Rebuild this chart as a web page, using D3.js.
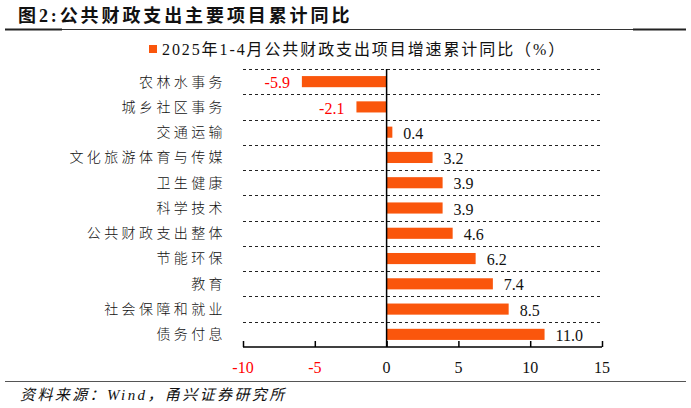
<!DOCTYPE html>
<html>
<head>
<meta charset="utf-8">
<script src="https://cdn.jsdelivr.net/npm/d3@7/dist/d3.min.js"></script>
<style>
body { margin: 0; background: #fff; }
svg { display: block; }
</style>
</head>
<body>
<svg id="chart"></svg>
<script>
var categories = ["农林水事务", "城乡社区事务", "交通运输", "文化旅游体育与传媒", "卫生健康", "科学技术",
  "公共财政支出整体", "节能环保", "教育", "社会保障和就业", "债务付息"];
var values = [-5.9, -2.1, 0.4, 3.2, 3.9, 3.9, 4.6, 6.2, 7.4, 8.5, 11.0];
var tickValues = [-10, -5, 0, 5, 10, 15];
var seriesName = "2025年1-4月公共财政支出项目增速累计同比（%）";

var width = 691,
  height = 408;
var barColor = "#FA560C";
var serif = "'Liberation Serif', 'Times New Roman', serif";
var cjk = "'Noto Sans CJK SC', sans-serif";

var svg = d3.select("#chart")
  .attr("width", width)
  .attr("height", height);

var x = d3.scaleLinear().domain([-10, 15]).range([243, 602]);
var y = d3.scaleBand().domain(categories).range([69, 347]).paddingInner(0.56).paddingOuter(0.28);

// title
svg.append("text")
  .attr("x", 18)
  .attr("y", 22)
  .style("font-family", serif + ", " + cjk)
  .style("font-weight", 700)
  .style("font-size", "18px")
  .style("letter-spacing", "2.9px")
  .style("fill", "#111")
  .text("图2:公共财政支出主要项目累计同比");

svg.append("line")
  .attr("x1", 5).attr("x2", 686)
  .attr("y1", 29.5).attr("y2", 29.5)
  .style("stroke", "#333")
  .style("stroke-width", 1.2);
svg.selectAll(".edge")
  .data([[5, 62], [633, 686]])
  .enter().append("line")
  .attr("class", "edge")
  .attr("x1", function(d) { return d[0]; })
  .attr("x2", function(d) { return d[1]; })
  .attr("y1", 29.5).attr("y2", 29.5)
  .style("stroke", "#222")
  .style("stroke-width", 2);

// legend
svg.append("rect")
  .attr("x", 149).attr("y", 45)
  .attr("width", 8).attr("height", 8)
  .style("fill", barColor);

svg.append("text")
  .attr("x", 162)
  .attr("y", 55)
  .style("font-family", serif + ", " + cjk)
  .style("font-size", "16px")
  .style("letter-spacing", "1.9px")
  .style("fill", "#111")
  .text(seriesName);

// dashed category separators
var bounds = categories.map(function(d) { return y(d) - y.step() * y.paddingInner() / 2; });
svg.selectAll(".grid")
  .data(bounds)
  .enter().append("line")
  .attr("class", "grid")
  .attr("x1", x(-10)).attr("x2", x(15))
  .attr("y1", function(d) { return Math.round(d) + 0.5; })
  .attr("y2", function(d) { return Math.round(d) + 0.5; })
  .style("stroke", "#222")
  .style("stroke-width", 1)
  .style("stroke-dasharray", "3,3");

// bars
svg.selectAll(".bar")
  .data(values)
  .enter().append("rect")
  .attr("class", "bar")
  .attr("x", function(d) { return x(Math.min(0, d)); })
  .attr("y", function(d, i) { return y(categories[i]); })
  .attr("width", function(d) { return Math.abs(x(d) - x(0)); })
  .attr("height", y.bandwidth())
  .style("fill", barColor);

// value labels
svg.selectAll(".val")
  .data(values)
  .enter().append("text")
  .attr("class", "val")
  .attr("x", function(d) { return d < 0 ? x(d) - 12 : x(d) + 11; })
  .attr("y", function(d, i) { return y(categories[i]) + y.bandwidth() / 2 + 1; })
  .attr("dy", "0.35em")
  .attr("text-anchor", function(d) { return d < 0 ? "end" : "start"; })
  .style("font-family", serif)
  .style("font-size", "16px")
  .style("fill", function(d) { return d < 0 ? "#FF0000" : "#111"; })
  .text(function(d) { return d.toFixed(1); });

// category labels
svg.selectAll(".cat")
  .data(categories)
  .enter().append("text")
  .attr("class", "cat")
  .attr("x", 226)
  .attr("y", function(d) { return y(d) + y.bandwidth() / 2; })
  .attr("dy", "0.35em")
  .attr("text-anchor", "end")
  .style("font-family", cjk)
  .style("font-weight", 300)
  .style("font-size", "14px")
  .style("letter-spacing", "3.4px")
  .style("fill", "#111")
  .text(function(d) { return d; });

// zero line
svg.append("line")
  .attr("x1", x(0)).attr("x2", x(0))
  .attr("y1", 69).attr("y2", 347)
  .style("stroke", "#000")
  .style("stroke-width", 1.5);

// x axis, ticks pointing up
var axis = svg.append("g")
  .attr("transform", "translate(0,347)")
  .call(d3.axisTop(x).tickValues(tickValues).tickSize(6).tickFormat(""));
axis.select(".domain").attr("d", "M" + x(-10) + ",0H" + x(15)).style("stroke", "#000").style("stroke-width", 1.5);
axis.selectAll(".tick line").style("stroke", "#000").style("stroke-width", 1.5);

svg.selectAll(".tl")
  .data(tickValues)
  .enter().append("text")
  .attr("class", "tl")
  .attr("x", function(d) { return x(d); })
  .attr("y", 373)
  .attr("text-anchor", "middle")
  .style("font-family", serif)
  .style("font-size", "16px")
  .style("fill", function(d) { return d < 0 ? "#FF0000" : "#111"; })
  .text(function(d) { return d; });

// footer
svg.append("line")
  .attr("x1", 5).attr("x2", 686)
  .attr("y1", 381.5).attr("y2", 381.5)
  .style("stroke", "#555")
  .style("stroke-width", 1);

svg.append("text")
  .attr("x", 20)
  .attr("y", 400)
  .style("font-family", serif + ", " + cjk)
  .style("font-style", "italic")
  .style("font-size", "15px")
  .style("letter-spacing", "2.4px")
  .style("fill", "#111")
  .text("资料来源：Wind，甬兴证券研究所");
</script>
</body>
</html>
